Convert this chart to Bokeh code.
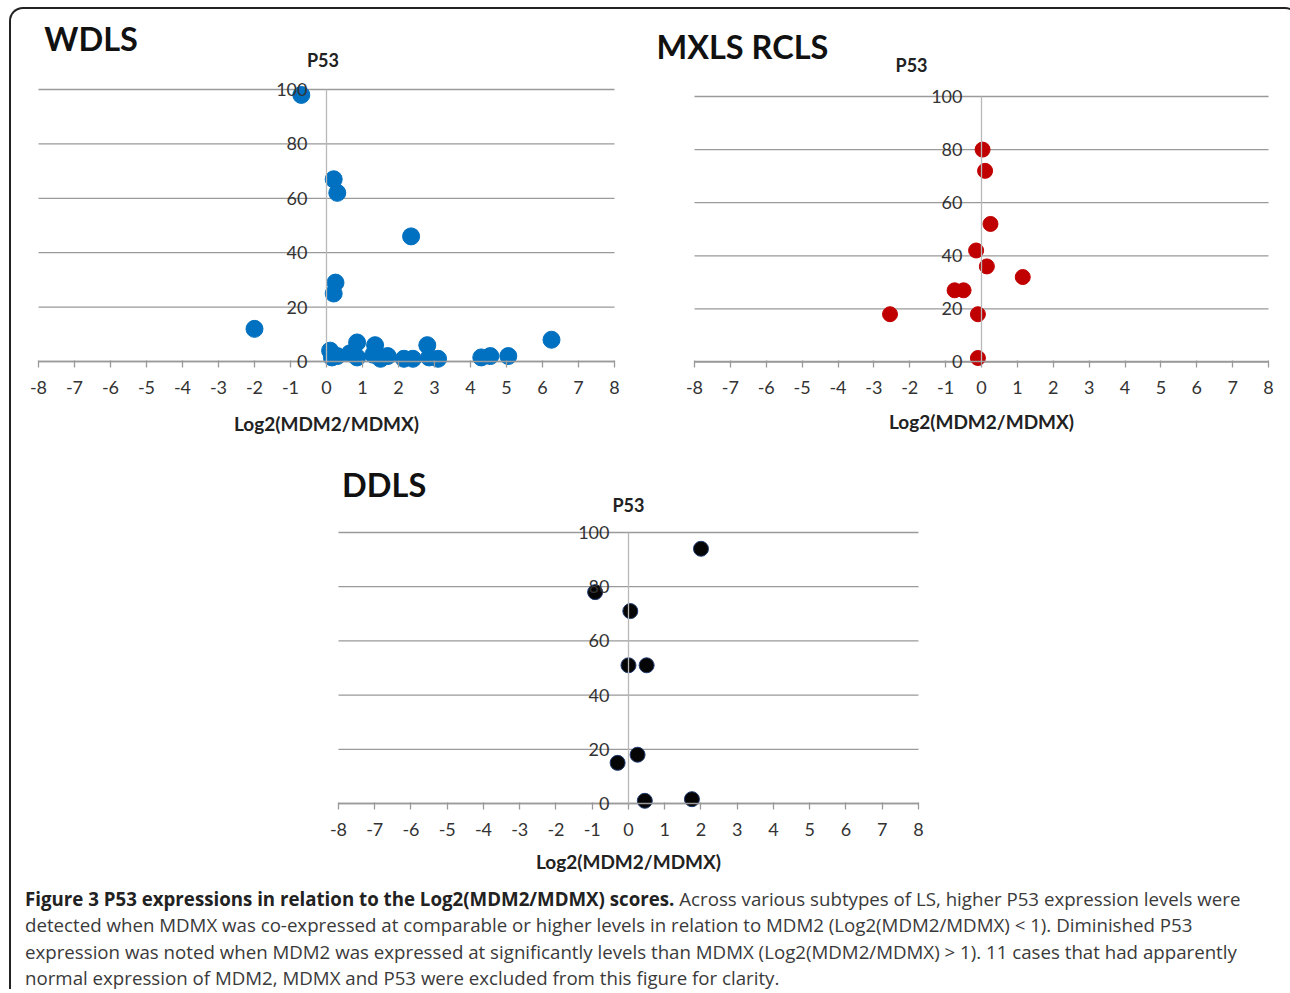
from bokeh.plotting import figure
from bokeh.models import Label, FixedTicker, Range1d, Spacer, Div, PrintfTickFormatter
from bokeh.layouts import column, row
from bokeh.embed import file_html
from bokeh.resources import INLINE

FONT = "Lato"

# ---- data ----
x_ticks = list(range(-8, 9))
y_ticks = [0, 20, 40, 60, 80, 100]

wdls_x = [-0.7, -2.0, 0.2, 0.3, 2.35, 0.25, 0.2, 6.25, 0.1, 0.15, 0.3, 0.65, 0.85,
          0.85, 1.35, 1.3, 1.5, 1.7, 2.15, 2.4, 2.8, 2.85, 3.1, 4.3, 4.55, 5.05]
wdls_y = [98, 12, 67, 62, 46, 29, 25, 8, 4, 1.5, 2, 3, 7,
          1.5, 6, 2.5, 1, 2, 1, 1, 6, 1.5, 1, 1.5, 2, 2]

mxls_x = [0.03, 0.1, 0.25, -0.15, 0.15, 1.15, -0.75, -0.5, -2.55, -0.1, -0.1]
mxls_y = [80, 72, 52, 42, 36, 32, 27, 27, 18, 18, 1.5]

ddls_x = [2.0, -0.92, 0.05, 0.0, 0.5, 0.25, -0.3, 0.45, 1.75]
ddls_y = [94, 78, 71, 51, 51, 18, 15, 1, 1.6]

y_label = "P53"
x_label = "Log2(MDM2/MDMX)"

caption_bold = "Figure 3 P53 expressions in relation to the Log2(MDM2/MDMX) scores."
caption_lines = [
    " Across various subtypes of LS, higher P53 expression levels were",
    "detected when MDMX was co-expressed at comparable or higher levels in relation to MDM2 (Log2(MDM2/MDMX) &lt; 1). Diminished P53",
    "expression was noted when MDM2 was expressed at significantly levels than MDMX (Log2(MDM2/MDMX) &gt; 1). 11 cases that had apparently",
    "normal expression of MDM2, MDMX and P53 were excluded from this figure for clarity.",
]


def panel(title, xs, ys, fill, edge, size, w, h, xr, yr, tx, ty, px, py, lab_sd):
    p = figure(width=w, height=h, x_range=Range1d(*xr), y_range=Range1d(*yr),
               output_backend="svg", toolbar_location=None,
               min_border=0, min_border_left=0, min_border_right=0,
               min_border_top=0, min_border_bottom=0,
               outline_line_color=None, border_fill_color=None,
               background_fill_color=None)
    p.xgrid.visible = False
    p.ygrid.visible = False

    # horizontal gridlines spanning the x data extent only
    p.segment(x0=[x_ticks[0]] * len(y_ticks), x1=[x_ticks[-1]] * len(y_ticks),
              y0=y_ticks, y1=y_ticks, line_color="#9A9A9A", line_width=1.3)

    xa = p.xaxis[0]
    xa.fixed_location = 0
    xa.bounds = (x_ticks[0], x_ticks[-1])
    xa.ticker = FixedTicker(ticks=x_ticks)
    xa.formatter = PrintfTickFormatter(format="%d")
    xa.axis_line_color = "#9A9A9A"
    xa.axis_line_width = 1.3
    xa.major_tick_line_color = "#9A9A9A"
    xa.major_tick_line_width = 1.3
    xa.major_tick_in = 1
    xa.major_tick_out = 6
    xa.minor_tick_line_color = None
    xa.major_label_text_font = FONT
    xa.major_label_text_font_size = "18px"
    xa.major_label_text_color = "#333333"
    xa.major_label_standoff = 13
    xa.axis_label = x_label
    xa.axis_label_text_font = FONT
    xa.axis_label_text_font_style = "bold"
    xa.axis_label_text_font_size = "19px"
    xa.axis_label_text_color = "#222222"
    xa.axis_label_standoff = lab_sd

    ya = p.yaxis[0]
    ya.fixed_location = 0
    ya.ticker = FixedTicker(ticks=y_ticks)
    ya.formatter = PrintfTickFormatter(format="%d")
    ya.bounds = (y_ticks[0], y_ticks[-1])
    ya.axis_line_color = "#B8B8B8"
    ya.axis_line_width = 1.3
    ya.major_tick_in = 0
    ya.major_tick_out = 0
    ya.minor_tick_line_color = None
    ya.major_label_text_font = FONT
    ya.major_label_text_font_size = "18px"
    ya.major_label_text_color = "#333333"
    ya.major_label_standoff = 19

    p.scatter(xs, ys, size=size, fill_color=fill, line_color=edge, line_width=1)

    p.add_layout(Label(x=tx, y=ty, text=title, text_font=FONT, text_font_size="32.5px",
                       text_font_style="bold", text_color="#111111",
                       text_align="left", text_baseline="middle"))
    p.add_layout(Label(x=px, y=py, text=y_label, text_font=FONT, text_font_size="18px",
                       text_font_style="bold", text_color="#222222",
                       text_align="center", text_baseline="middle"))
    return p


p1 = panel("WDLS", wdls_x, wdls_y, "#0070C0", "#0070C0", 17,
           640, 440, (-8.75, 9.028), (-32.35, 129.41), -7.84, 118.6, -0.1, 110.7, 15)
p2 = panel("MXLS RCLS", mxls_x, mxls_y, "#C00000", "#C00000", 15,
           636, 440, (-9.1986, 8.5296), (-32.96, 132.77), -9.06, 118.8, -1.95, 112.0, 13)
# DDLS canvas: page y 449..879 -> y range from pixel mapping page_y = 803 - y*2.71
p3 = panel("DDLS", ddls_x, ddls_y, "#050505", "#1F3A70", 15,
           660, 430, (-9.048, 9.159), (-28.04, 130.63), -7.9, 117.7, 0.0, 110.0, 11)

cap_html = ("<div style=\"font-family:'Open Sans'; font-size:18.7px; line-height:26.3px; "
            "color:#3a3a3a; white-space:nowrap; padding-left:9px; padding-top:2px;\">"
            "<b style='color:#222'>" + caption_bold + "</b>" + "<br>".join(caption_lines) + "</div>")
cap = Div(text=cap_html, width=1276, height=100)

layout = column(
    row(p1, p2),
    row(Spacer(width=289, height=430), p3),
    cap,
    styles={"border": "2px solid #222222", "border-bottom": "none",
            "border-radius": "14px 14px 0 0", "margin-left": "9px", "margin-top": "7px"},
)

open("out.html", "w").write(file_html(layout, INLINE))
